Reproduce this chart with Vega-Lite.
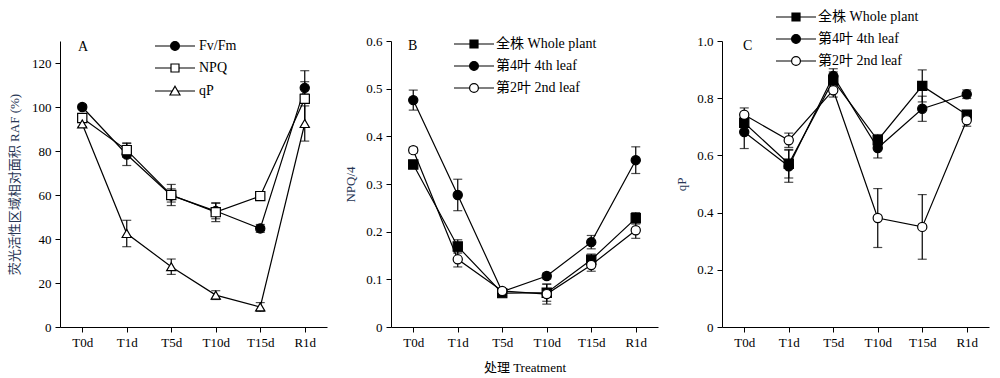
{
  "$schema": "https://vega.github.io/schema/vega-lite/v6.json",
  "background": "white",
  "padding": {"left": 8, "top": 10, "right": 5, "bottom": 5},
  "datasets": {
    "a": [
      {"s": "Fv/Fm", "t": "T0d", "v": 100, "e": 1},
      {"s": "Fv/Fm", "t": "T1d", "v": 78.4, "e": 5},
      {"s": "Fv/Fm", "t": "T5d", "v": 59.8, "e": 3},
      {"s": "Fv/Fm", "t": "T10d", "v": 52.7, "e": 3.5},
      {"s": "Fv/Fm", "t": "T15d", "v": 44.8, "e": 1.8},
      {"s": "Fv/Fm", "t": "R1d", "v": 108.7, "e": 2.8},
      {"s": "NPQ", "t": "T0d", "v": 95, "e": 1.5},
      {"s": "NPQ", "t": "T1d", "v": 80.4, "e": 3.3},
      {"s": "NPQ", "t": "T5d", "v": 60, "e": 4.8},
      {"s": "NPQ", "t": "T10d", "v": 52.2, "e": 4.3},
      {"s": "NPQ", "t": "T15d", "v": 59.5, "e": 1.9},
      {"s": "NPQ", "t": "R1d", "v": 103.7, "e": 12.8},
      {"s": "qP", "t": "T0d", "v": 92.3, "e": 1.2},
      {"s": "qP", "t": "T1d", "v": 42.5, "e": 6},
      {"s": "qP", "t": "T5d", "v": 27.4, "e": 3.5},
      {"s": "qP", "t": "T10d", "v": 14.5, "e": 2},
      {"s": "qP", "t": "T15d", "v": 9.1, "e": 2},
      {"s": "qP", "t": "R1d", "v": 92.5, "e": 8}
    ],
    "b": [
      {"s": "全株 Whole plant", "t": "T0d", "v": 0.341, "e": 0.008},
      {"s": "全株 Whole plant", "t": "T1d", "v": 0.169, "e": 0.014},
      {"s": "全株 Whole plant", "t": "T5d", "v": 0.071, "e": 0.005},
      {"s": "全株 Whole plant", "t": "T10d", "v": 0.072, "e": 0.018},
      {"s": "全株 Whole plant", "t": "T15d", "v": 0.141, "e": 0.012},
      {"s": "全株 Whole plant", "t": "R1d", "v": 0.228, "e": 0.012},
      {"s": "第4叶 4th leaf", "t": "T0d", "v": 0.476, "e": 0.021},
      {"s": "第4叶 4th leaf", "t": "T1d", "v": 0.277, "e": 0.033},
      {"s": "第4叶 4th leaf", "t": "T5d", "v": 0.074, "e": 0.004},
      {"s": "第4叶 4th leaf", "t": "T10d", "v": 0.107, "e": 0.006},
      {"s": "第4叶 4th leaf", "t": "T15d", "v": 0.178, "e": 0.014},
      {"s": "第4叶 4th leaf", "t": "R1d", "v": 0.35, "e": 0.028},
      {"s": "第2叶 2nd leaf", "t": "T0d", "v": 0.371, "e": 0.006},
      {"s": "第2叶 2nd leaf", "t": "T1d", "v": 0.142, "e": 0.016},
      {"s": "第2叶 2nd leaf", "t": "T5d", "v": 0.0755, "e": 0.005},
      {"s": "第2叶 2nd leaf", "t": "T10d", "v": 0.069, "e": 0.021},
      {"s": "第2叶 2nd leaf", "t": "T15d", "v": 0.13, "e": 0.013},
      {"s": "第2叶 2nd leaf", "t": "R1d", "v": 0.203, "e": 0.017}
    ],
    "c": [
      {"s": "全株 Whole plant", "t": "T0d", "v": 0.714, "e": 0.03},
      {"s": "全株 Whole plant", "t": "T1d", "v": 0.571, "e": 0.05},
      {"s": "全株 Whole plant", "t": "T5d", "v": 0.862, "e": 0.03},
      {"s": "全株 Whole plant", "t": "T10d", "v": 0.653, "e": 0.02},
      {"s": "全株 Whole plant", "t": "T15d", "v": 0.843, "e": 0.056},
      {"s": "全株 Whole plant", "t": "R1d", "v": 0.742, "e": 0.015},
      {"s": "第4叶 4th leaf", "t": "T0d", "v": 0.682, "e": 0.058},
      {"s": "第4叶 4th leaf", "t": "T1d", "v": 0.562, "e": 0.056},
      {"s": "第4叶 4th leaf", "t": "T5d", "v": 0.878, "e": 0.025},
      {"s": "第4叶 4th leaf", "t": "T10d", "v": 0.626, "e": 0.035},
      {"s": "第4叶 4th leaf", "t": "T15d", "v": 0.763, "e": 0.044},
      {"s": "第4叶 4th leaf", "t": "R1d", "v": 0.814, "e": 0.015},
      {"s": "第2叶 2nd leaf", "t": "T0d", "v": 0.742, "e": 0.024},
      {"s": "第2叶 2nd leaf", "t": "T1d", "v": 0.653, "e": 0.025},
      {"s": "第2叶 2nd leaf", "t": "T5d", "v": 0.828, "e": 0.024},
      {"s": "第2叶 2nd leaf", "t": "T10d", "v": 0.381, "e": 0.103},
      {"s": "第2叶 2nd leaf", "t": "T15d", "v": 0.35, "e": 0.113},
      {"s": "第2叶 2nd leaf", "t": "R1d", "v": 0.723, "e": 0.021}
    ]
  },
  "bounds": "flush",
  "spacing": 64,
  "hconcat": [
    {
      "width": 267, "height": 286,
      "title": {"text": "A", "anchor": "start", "frame": "group", "dx": 18, "offset": -15, "fontSize": 14, "fontWeight": "normal", "color": "black", "font": "Liberation Serif"},
      "data": {"name": "a"},
      "encoding": {
        "x": {"field": "t", "type": "ordinal", "sort": ["T0d", "T1d", "T5d", "T10d", "T15d", "R1d"], "scale": {"type": "point", "padding": 0.5}, "axis": {"title": null, "labelAngle": 0, "labelPadding": 4}},
        "y": {"field": "v", "type": "quantitative", "scale": {"domain": [0, 130], "nice": false}, "axis": {"title": "荧光活性区域相对面积 RAF (%)", "titleColor": "#283655", "values": [0, 20, 40, 60, 80, 100, 120], "titlePadding": 10, "labelPadding": 4}}
      },
      "layer": [
        {"mark": {"type": "errorbar", "color": "black", "thickness": 1.2, "ticks": {"size": 9, "thickness": 1.2, "color": "black"}}, "encoding": {"yError": {"field": "e"}, "detail": {"field": "s"}}},
        {"mark": {"type": "line", "color": "black", "strokeWidth": 1.2}, "encoding": {"detail": {"field": "s"}}},
        {"mark": {"type": "point", "filled": true, "stroke": "black", "strokeWidth": 1.2, "size": 85, "opacity": 1},
         "encoding": {
           "shape": {"field": "s", "type": "nominal", "scale": {"domain": ["Fv/Fm", "NPQ", "qP"], "range": ["circle", "square", "triangle-up"]}, "legend": null},
           "fill": {"field": "s", "type": "nominal", "scale": {"domain": ["Fv/Fm", "NPQ", "qP"], "range": ["black", "white", "white"]}, "legend": null}
         }},
        {"mark": {"type": "point", "filled": true, "stroke": "black", "strokeWidth": 1.2, "size": 64, "opacity": 0},
         "encoding": {
           "shape": {"field": "s", "type": "nominal", "scale": {"domain": ["Fv/Fm", "NPQ", "qP"], "range": ["M-5,0H-1.1M1.1,0H5M-1.1,0A1.1,1.1,0,1,1,1.1,0A1.1,1.1,0,1,1,-1.1,0", "M-5,0H-1M1,0H5M-1,-1H1V1H-1Z", "M-5,0H-0.68M0.68,0H5M0,-1.2L1.25,1H-1.25Z"]},
             "legend": {"title": null, "orient": "none", "legendX": 108, "legendY": -2, "labelFontSize": 14, "labelOffset": 17, "rowPadding": 8, "symbolSize": 64, "symbolStrokeWidth": 1.2, "symbolOpacity": 1}},
           "fill": {"field": "s", "type": "nominal", "scale": {"domain": ["Fv/Fm", "NPQ", "qP"], "range": ["black", "white", "white"]},
             "legend": {"title": null, "orient": "none", "legendX": 108, "legendY": -2, "labelFontSize": 14, "labelOffset": 17, "rowPadding": 8, "symbolSize": 64, "symbolStrokeWidth": 1.2, "symbolOpacity": 1}}
         }}
      ],
      "resolve": {"scale": {"shape": "independent", "fill": "independent"}, "legend": {"shape": "independent", "fill": "independent"}}
    },
    {
      "width": 267, "height": 286,
      "title": {"text": "B", "anchor": "start", "frame": "group", "dx": 17, "offset": -18, "fontSize": 14, "fontWeight": "normal", "color": "black", "font": "Liberation Serif"},
      "data": {"name": "b"},
      "encoding": {
        "x": {"field": "t", "type": "ordinal", "sort": ["T0d", "T1d", "T5d", "T10d", "T15d", "R1d"], "scale": {"type": "point", "padding": 0.5}, "axis": {"title": "处理 Treatment", "labelAngle": 0, "labelPadding": 4, "titlePadding": 12}},
        "y": {"field": "v", "type": "quantitative", "scale": {"domain": [0, 0.6], "nice": false}, "axis": {"title": "NPQ/4", "titleColor": "#283655", "values": [0, 0.1, 0.2, 0.3, 0.4, 0.5, 0.6], "labelExpr": "datum.value == 0 ? '0' : format(datum.value, '.1f')", "titlePadding": 8, "labelPadding": 4}}
      },
      "layer": [
        {"mark": {"type": "errorbar", "color": "black", "thickness": 1.2, "ticks": {"size": 9, "thickness": 1.2, "color": "black"}}, "encoding": {"yError": {"field": "e"}, "detail": {"field": "s"}}},
        {"mark": {"type": "line", "color": "black", "strokeWidth": 1.2}, "encoding": {"detail": {"field": "s"}}},
        {"mark": {"type": "point", "filled": true, "stroke": "black", "strokeWidth": 1.2, "size": 85, "opacity": 1},
         "encoding": {
           "shape": {"field": "s", "type": "nominal", "scale": {"domain": ["全株 Whole plant", "第4叶 4th leaf", "第2叶 2nd leaf"], "range": ["square", "circle", "circle"]}, "legend": null},
           "fill": {"field": "s", "type": "nominal", "scale": {"domain": ["全株 Whole plant", "第4叶 4th leaf", "第2叶 2nd leaf"], "range": ["black", "black", "white"]}, "legend": null}
         }},
        {"mark": {"type": "point", "filled": true, "stroke": "black", "strokeWidth": 1.2, "size": 64, "opacity": 0},
         "encoding": {
           "shape": {"field": "s", "type": "nominal", "scale": {"domain": ["全株 Whole plant", "第4叶 4th leaf", "第2叶 2nd leaf"], "range": ["M-5,0H-1M1,0H5M-1,-1H1V1H-1Z", "M-5,0H-1.1M1.1,0H5M-1.1,0A1.1,1.1,0,1,1,1.1,0A1.1,1.1,0,1,1,-1.1,0", "M-5,0H-1.1M1.1,0H5M-1.1,0A1.1,1.1,0,1,1,1.1,0A1.1,1.1,0,1,1,-1.1,0"]},
             "legend": {"title": null, "orient": "none", "legendX": 76, "legendY": -4, "labelFontSize": 14, "labelOffset": 15, "rowPadding": 8, "symbolSize": 64, "symbolStrokeWidth": 1.2, "symbolOpacity": 1}},
           "fill": {"field": "s", "type": "nominal", "scale": {"domain": ["全株 Whole plant", "第4叶 4th leaf", "第2叶 2nd leaf"], "range": ["black", "black", "white"]},
             "legend": {"title": null, "orient": "none", "legendX": 76, "legendY": -4, "labelFontSize": 14, "labelOffset": 15, "rowPadding": 8, "symbolSize": 64, "symbolStrokeWidth": 1.2, "symbolOpacity": 1}}
         }}
      ],
      "resolve": {"scale": {"shape": "independent", "fill": "independent"}, "legend": {"shape": "independent", "fill": "independent"}}
    },
    {
      "width": 267, "height": 286,
      "title": {"text": "C", "anchor": "start", "frame": "group", "dx": 21, "offset": -43, "fontSize": 14, "fontWeight": "normal", "color": "black", "font": "Liberation Serif"},
      "data": {"name": "c"},
      "encoding": {
        "x": {"field": "t", "type": "ordinal", "sort": ["T0d", "T1d", "T5d", "T10d", "T15d", "R1d"], "scale": {"type": "point", "padding": 0.5}, "axis": {"title": null, "labelAngle": 0, "labelPadding": 4}},
        "y": {"field": "v", "type": "quantitative", "scale": {"domain": [0, 1], "nice": false}, "axis": {"title": "qP", "titleColor": "#283655", "values": [0, 0.2, 0.4, 0.6, 0.8, 1.0], "labelExpr": "datum.value == 0 ? '0' : format(datum.value, '.1f')", "titlePadding": 8, "labelPadding": 4}}
      },
      "layer": [
        {"mark": {"type": "errorbar", "color": "black", "thickness": 1.2, "ticks": {"size": 9, "thickness": 1.2, "color": "black"}}, "encoding": {"yError": {"field": "e"}, "detail": {"field": "s"}}},
        {"mark": {"type": "line", "color": "black", "strokeWidth": 1.2}, "encoding": {"detail": {"field": "s"}}},
        {"mark": {"type": "point", "filled": true, "stroke": "black", "strokeWidth": 1.2, "size": 85, "opacity": 1},
         "encoding": {
           "shape": {"field": "s", "type": "nominal", "scale": {"domain": ["全株 Whole plant", "第4叶 4th leaf", "第2叶 2nd leaf"], "range": ["square", "circle", "circle"]}, "legend": null},
           "fill": {"field": "s", "type": "nominal", "scale": {"domain": ["全株 Whole plant", "第4叶 4th leaf", "第2叶 2nd leaf"], "range": ["black", "black", "white"]}, "legend": null}
         }},
        {"mark": {"type": "point", "filled": true, "stroke": "black", "strokeWidth": 1.2, "size": 64, "opacity": 0},
         "encoding": {
           "shape": {"field": "s", "type": "nominal", "scale": {"domain": ["全株 Whole plant", "第4叶 4th leaf", "第2叶 2nd leaf"], "range": ["M-5,0H-1M1,0H5M-1,-1H1V1H-1Z", "M-5,0H-1.1M1.1,0H5M-1.1,0A1.1,1.1,0,1,1,1.1,0A1.1,1.1,0,1,1,-1.1,0", "M-5,0H-1.1M1.1,0H5M-1.1,0A1.1,1.1,0,1,1,1.1,0A1.1,1.1,0,1,1,-1.1,0"]},
             "legend": {"title": null, "orient": "none", "legendX": 67, "legendY": -31, "labelFontSize": 14, "labelOffset": 15, "rowPadding": 8, "symbolSize": 64, "symbolStrokeWidth": 1.2, "symbolOpacity": 1}},
           "fill": {"field": "s", "type": "nominal", "scale": {"domain": ["全株 Whole plant", "第4叶 4th leaf", "第2叶 2nd leaf"], "range": ["black", "black", "white"]},
             "legend": {"title": null, "orient": "none", "legendX": 67, "legendY": -31, "labelFontSize": 14, "labelOffset": 15, "rowPadding": 8, "symbolSize": 64, "symbolStrokeWidth": 1.2, "symbolOpacity": 1}}
         }}
      ],
      "resolve": {"scale": {"shape": "independent", "fill": "independent"}, "legend": {"shape": "independent", "fill": "independent"}}
    }
  ],
  "resolve": {
    "scale": {"shape": "independent", "fill": "independent", "y": "independent", "x": "independent"},
    "legend": {"shape": "independent", "fill": "independent"}
  },
  "config": {
    "font": "Liberation Serif, Noto Sans CJK SC",
    "view": {"stroke": null},
    "axis": {"domainColor": "black", "tickColor": "black", "labelColor": "black", "labelFont": "Liberation Serif, Noto Sans CJK SC", "titleFont": "Liberation Serif, Noto Sans CJK SC", "labelFontSize": 13, "titleFontSize": 13, "titleFontWeight": "normal", "grid": false, "tickSize": 5, "domainWidth": 1, "tickWidth": 1},
    "legend": {"labelFont": "Liberation Serif, Noto Sans CJK SC", "labelColor": "black"}
  }
}
